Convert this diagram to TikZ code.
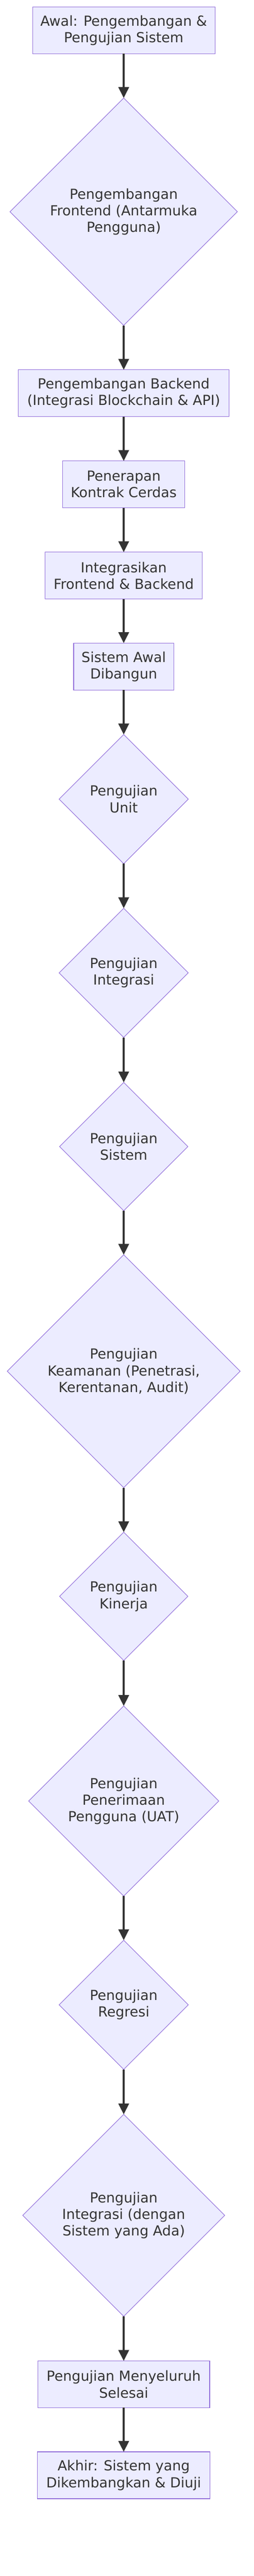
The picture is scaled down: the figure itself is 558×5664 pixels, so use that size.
\documentclass[tikz,border=0pt]{standalone}
\usepackage{fontspec}
\setmainfont{DejaVu Sans}
\usetikzlibrary{shapes.geometric,arrows.meta}
\definecolor{nodefill}{HTML}{ECECFF}
\definecolor{nodeline}{HTML}{9370DB}
\definecolor{edgeline}{HTML}{333333}

\begin{document}
\begin{tikzpicture}[x=1pt, y=-1pt,
        box/.style={rectangle, draw=nodeline, fill=nodefill, line width=1.3pt,
            minimum height=103pt, inner sep=0pt, outer sep=0pt, align=center,
            text=edgeline, font=\fontsize{30.5}{36.5}\selectfont},
        decision/.style={diamond, aspect=1, draw=nodeline, fill=nodefill, line width=1.2pt,
            inner sep=0pt, outer sep=0pt, align=center,
            text=edgeline, font=\fontsize{30.5}{36.5}\selectfont},
        flow/.style={draw=edgeline, line width=4pt, -{Triangle[width=23pt,length=24pt]}}]
        \useasboundingbox (0, 0) rectangle (558, 5664);

        \node [box, minimum width=401] (A) at (272, 66.5) {Awal: Pengembangan \&\\Pengujian Sistem};
        \node [decision, minimum size=500] (B) at (272, 465.5) {Pengembangan\\Frontend (Antarmuka\\Pengguna)};
        \node [box, minimum width=464] (C) at (272, 864.5) {Pengembangan Backend\\(Integrasi Blockchain \& API)};
        \node [box, minimum width=269] (D) at (272, 1065) {Penerapan\\Kontrak Cerdas};
        \node [box, minimum width=346] (E) at (272, 1265.5) {Integrasikan\\Frontend \& Backend};
        \node [box, minimum width=220] (F) at (272, 1465.5) {Sistem Awal\\Dibangun};
        \node [decision, minimum size=284] (G) at (272, 1757) {Pengujian\\Unit};
        \node [decision, minimum size=284] (H) at (272, 2139) {Pengujian\\Integrasi};
        \node [decision, minimum size=282] (I) at (272, 2521) {Pengujian\\Sistem};
        \node [decision, minimum size=512] (J) at (272, 3015) {Pengujian\\Keamanan (Penetrasi,\\Kerentanan, Audit)};
        \node [decision, minimum size=282] (K) at (272, 3510) {Pengujian\\Kinerja};
        \node [decision, minimum size=418] (L) at (272, 3960) {Pengujian\\Penerimaan\\Pengguna (UAT)};
        \node [decision, minimum size=284] (M) at (272, 4408) {Pengujian\\Regresi};
        \node [decision, minimum size=444] (N) at (272, 4871) {Pengujian\\Integrasi (dengan\\Sistem yang Ada)};
        \node [box, minimum width=378] (O) at (272, 5242.5) {Pengujian Menyeluruh\\Selesai};
        \node [box, minimum width=379] (P) at (272, 5442.5) {Akhir: Sistem yang\\Dikembangkan \& Diuji};

        \draw [flow] (A) -- (B);
        \draw [flow] (B) -- (C);
        \draw [flow] (C) -- (D);
        \draw [flow] (D) -- (E);
        \draw [flow] (E) -- (F);
        \draw [flow] (F) -- (G);
        \draw [flow] (G) -- (H);
        \draw [flow] (H) -- (I);
        \draw [flow] (I) -- (J);
        \draw [flow] (J) -- (K);
        \draw [flow] (K) -- (L);
        \draw [flow] (L) -- (M);
        \draw [flow] (M) -- (N);
        \draw [flow] (N) -- (O);
        \draw [flow] (O) -- (P);
    \end{tikzpicture}
\end{document}
